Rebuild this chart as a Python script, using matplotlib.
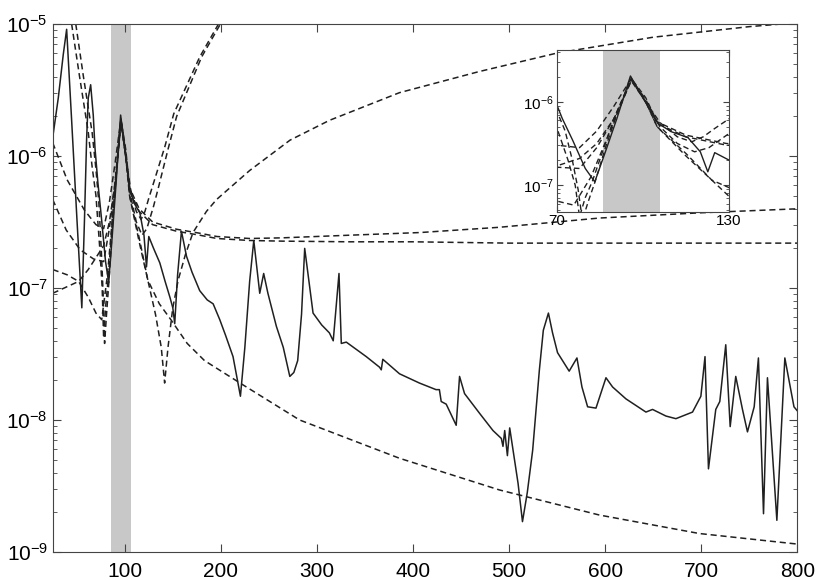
import numpy as np
import matplotlib
matplotlib.use("Agg")
import matplotlib.pyplot as plt

plt.rcParams['font.family'] = ['Liberation Sans', 'DejaVu Sans']
plt.rcParams['mathtext.default'] = 'regular'

# resonance band
band = [86, 106]

solid_x = [25, 30.8, 36, 39.5, 44.7, 50, 55.3, 58, 60.3, 62, 64.5, 67.2, 69, 72, 75.6,
           80, 83.3, 87, 91, 95.7, 100, 105.3, 110, 115.7, 120, 122.6, 125, 130, 136.5,
           142, 147, 150, 152, 155, 159, 164.3, 170, 178, 185.8, 192, 198.9, 205, 212.7,
           220.4, 225, 230, 234.3, 240.5, 244.6, 249, 257.8, 265, 271.8, 276, 280, 284,
           287.3, 296, 305, 313, 317, 323, 325.4, 330.6, 351.4, 365.2, 367, 368.6, 386,
           406.7, 424, 427.5, 429.4, 434.6, 445, 448.5, 453.7, 469.4, 483.3, 492, 493.7,
           495.5, 498.3, 500.7, 509.4, 514, 519, 524.6, 531.6, 535.7, 541, 545.3, 550.5,
           562.6, 570.7, 575.9, 581.8, 590.5, 600.9, 607.8, 621.7, 642.5, 649.4, 663.3,
           673.7, 691, 699.7, 704, 707.6, 715.2, 719.4, 725.6, 730.2, 736, 743, 748.2,
           755.2, 759.6, 764.9, 769, 778.8, 787.1, 796.6, 800]
solid_e = [-5.86, -5.56, -5.23, -5.04, -5.73, -6.45, -7.15, -6.5, -5.87, -5.56, -5.46, -5.69,
           -5.94, -6.2, -6.46, -6.8, -6.96, -6.6, -6.2, -5.69, -5.95, -6.26, -6.36, -6.43,
           -6.6, -6.84, -6.61, -6.7, -6.81, -6.95, -7.07, -7.15, -7.27, -6.9, -6.57, -6.76,
           -6.88, -7.02, -7.09, -7.12, -7.24, -7.36, -7.52, -7.82, -7.45, -6.95, -6.64,
           -7.04, -6.89, -7.04, -7.29, -7.45, -7.67, -7.64, -7.55, -7.2, -6.70, -7.19,
           -7.28, -7.34, -7.40, -6.89, -7.42, -7.41, -7.52, -7.60, -7.62, -7.54, -7.65,
           -7.72, -7.77, -7.77, -7.86, -7.88, -8.04, -7.67, -7.80, -7.95, -8.08, -8.14,
           -8.20, -8.08, -8.27, -8.06, -8.48, -8.77, -8.55, -8.23, -7.62, -7.32, -7.19,
           -7.34, -7.49, -7.63, -7.53, -7.75, -7.90, -7.91, -7.68, -7.75, -7.84, -7.94,
           -7.92, -7.97, -7.99, -7.94, -7.82, -7.52, -8.37, -7.92, -7.86, -7.43, -8.05,
           -7.67, -7.92, -8.09, -7.90, -7.53, -8.71, -7.68, -8.76, -7.53, -7.90, -7.93]

# model curves (dashed)
upper_x = [25, 40, 58, 70, 78, 84, 90, 96, 101, 105, 115, 129, 154, 178, 196, 230, 264,
           334, 407, 490, 594, 700, 800]
upper_e = [-5.90, -6.18, -6.41, -6.52, -6.55, -6.35, -6.05, -5.72, -5.95, -6.24, -6.40,
           -6.50, -6.555, -6.585, -6.61, -6.625, -6.62, -6.60, -6.58, -6.54, -6.47,
           -6.43, -6.40]

lower_x = [25, 39, 53.5, 67.5, 78, 84, 90, 96, 101, 105, 115, 129, 154, 178, 196, 230,
           264, 334, 400, 500, 600, 700, 800]
lower_e = [-6.33, -6.56, -6.71, -6.78, -6.80, -6.55, -6.2, -5.73, -5.97, -6.26, -6.42,
           -6.52, -6.57, -6.6, -6.625, -6.64, -6.645, -6.65, -6.65, -6.66, -6.66,
           -6.66, -6.66]

floor_x = [25, 40, 52, 62, 70, 76, 82, 88, 96, 101, 105, 115, 124, 136, 148, 165, 183,
           220, 282, 386, 490, 594, 698, 800]
floor_e = [-6.86, -6.90, -6.95, -7.07, -7.19, -7.24, -6.9, -6.4, -5.74, -6.0, -6.3,
           -6.62, -6.94, -7.12, -7.24, -7.42, -7.55, -7.72, -8.0, -8.29, -8.53, -8.72,
           -8.86, -8.94]

rise_x = [25, 40, 52, 62, 70, 78, 84, 90, 96, 101, 105, 115, 124, 132, 138, 141.5, 145,
          150, 155.6, 163, 171, 185, 195.5, 230, 272, 313, 386, 469, 550, 650, 750, 800]
rise_e = [-7.04, -6.99, -6.95, -6.86, -6.77, -6.68, -6.5, -6.2, -5.75, -6.0, -6.3, -6.65,
          -6.94, -7.2, -7.45, -7.72, -7.45, -7.15, -6.94, -6.75, -6.58, -6.42, -6.33,
          -6.11, -5.88, -5.73, -5.52, -5.36, -5.22, -5.10, -5.02, -4.99]

steep1_x = [44.7, 53, 62, 66, 70, 74, 76.5, 78, 80, 82.5, 86, 90, 96, 101, 106, 112, 117,
            121, 125, 129.3, 141.7, 151, 178, 196, 200]
steep1_e = [-5.0, -5.4, -5.82, -6.08, -6.3, -6.7, -7.0, -7.38, -7.15, -6.95, -6.6, -6.2,
            -5.72, -6.0, -6.25, -6.42, -6.48, -6.42, -6.32, -6.22, -5.93, -5.68, -5.25,
            -5.02, -4.97]

steep2_x = [49, 57, 66, 70, 73, 75.5, 77.5, 79, 81, 83.5, 87, 91, 96, 101, 106, 112, 118,
            123, 130, 135, 145, 154, 180, 198, 202]
steep2_e = [-5.0, -5.4, -5.82, -6.1, -6.35, -6.7, -7.05, -7.42, -7.2, -6.95, -6.55, -6.15,
            -5.72, -6.0, -6.3, -6.5, -6.6, -6.55, -6.38, -6.24, -5.95, -5.70, -5.25,
            -5.02, -4.97]

dashed = [(upper_x, upper_e), (lower_x, lower_e), (floor_x, floor_e),
          (rise_x, rise_e), (steep1_x, steep1_e), (steep2_x, steep2_e)]


def draw(ax, lw):
    ax.axvspan(band[0], band[1], color='#c8c8c8', lw=0, zorder=0)
    for x, e in dashed:
        ax.plot(x, 10.0 ** np.array(e), color='#202020', lw=lw, ls=(0, (4, 2.5)))
    ax.plot(solid_x, 10.0 ** np.array(solid_e), color='#202020', lw=lw)
    ax.set_yscale('log')
    ax.tick_params(which='both', direction='in', top=True, right=True, color='#444444')
    for s in ax.spines.values():
        s.set_color('#444444')


fig = plt.figure(figsize=(8.16, 5.8), dpi=100)
ax = fig.add_axes([0.0646, 0.0483, 0.9124, 0.9103])
draw(ax, 1.1)
ax.set_xlim(25, 800)
ax.set_ylim(1e-9, 1e-5)
ax.set_xticks([100, 200, 300, 400, 500, 600, 700, 800])
ax.set_yticks([1e-9, 1e-8, 1e-7, 1e-6, 1e-5])
ax.set_yticklabels(['$10^{-9}$', '$10^{-8}$', '$10^{-7}$', '$10^{-6}$', '$10^{-5}$'])
ax.tick_params(which='major', length=6, labelsize=15)
ax.tick_params(which='minor', length=3)
ax.tick_params(axis='x', pad=7)

ins = fig.add_axes([0.682, 0.635, 0.2115, 0.279])
draw(ins, 1.0)
ins.set_facecolor('white')
ins.set_xlim(70, 130)
ins.set_ylim(4.8e-8, 4.2e-6)
ins.set_xticks([70, 130])
ins.set_yticks([1e-7, 1e-6])
ins.set_yticklabels(['$10^{-7}$', '$10^{-6}$'])
ins.tick_params(which='major', length=4, labelsize=11, pad=2)
ins.tick_params(which='minor', length=2)

fig.savefig('out.png', dpi=100)
